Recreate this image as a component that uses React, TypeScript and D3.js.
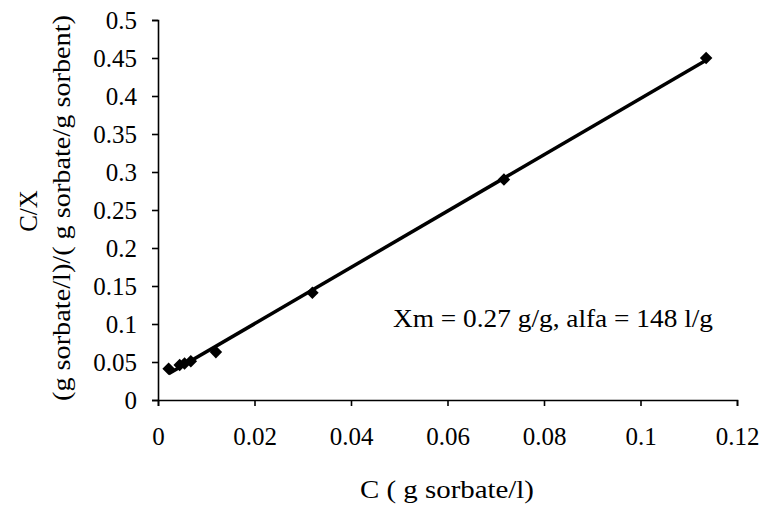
import React, { useRef, useEffect } from "react";
import * as d3 from "d3";

// measured points: C (g sorbate/l) vs C/X
const concC = [0.0022, 0.0045, 0.0055, 0.0068, 0.012, 0.032, 0.0717, 0.1136];
const ratioCX = [0.041, 0.046, 0.048, 0.051, 0.063, 0.141, 0.29, 0.45];

const xTicks = [0, 0.02, 0.04, 0.06, 0.08, 0.1, 0.12];
const yTicks = [0, 0.05, 0.1, 0.15, 0.2, 0.25, 0.3, 0.35, 0.4, 0.45, 0.5];

const xTitle = "C ( g sorbate/l)";
const yTitle1 = "C/X";
const yTitle2 = "(g sorbate/l)/( g sorbate/g sorbent)";
const note = "Xm = 0.27 g/g, alfa = 148 l/g";

const W = 760;
const H = 506;
const FONT = '"Liberation Serif", "Times New Roman", Times, serif';
const FS = 25;

function App() {
  const svgRef = useRef<SVGSVGElement>(null);

  useEffect(() => {
    const svg = d3.select(svgRef.current);
    svg.selectAll("*").remove();

    const x = d3.scaleLinear().domain([0, 0.12]).range([158, 737]);
    const y = d3.scaleLinear().domain([0, 0.5]).range([400, 20]);

    // axes
    svg.append("g")
      .attr("transform", "translate(0,400)")
      .call(d3.axisBottom(x).tickValues(xTicks).tickFormat(d => String(d)).tickSize(6).tickPadding(21))
      .call(g => g.select(".domain").attr("stroke-width", 1.6))
      .call(g => g.selectAll(".tick line").attr("stroke-width", 1.6));

    svg.append("g")
      .attr("transform", "translate(158,0)")
      .call(d3.axisLeft(y).tickValues(yTicks).tickFormat(d => String(d)).tickSize(6).tickPadding(15))
      .call(g => g.select(".domain").attr("stroke-width", 1.6))
      .call(g => g.selectAll(".tick line").attr("stroke-width", 1.6));

    svg.selectAll("g").attr("font-family", null).attr("font-size", null);
    svg.selectAll(".tick text").attr("fill", "#000");

    // least-squares trend line through the points
    const pts = concC.map((c, i) => [c, ratioCX[i]] as [number, number]);
    const mx = d3.mean(concC)!;
    const my = d3.mean(ratioCX)!;
    const slope = d3.sum(pts, p => (p[0] - mx) * (p[1] - my)) / d3.sum(pts, p => (p[0] - mx) ** 2);
    const icpt = my - slope * mx;
    const [x0, x1] = d3.extent(concC) as [number, number];
    const trend: [number, number][] = [[x0, icpt + slope * x0], [x1, icpt + slope * x1]];

    svg.append("path")
      .datum(trend)
      .attr("d", d3.line<[number, number]>().x(d => x(d[0])).y(d => y(d[1])))
      .attr("fill", "none")
      .attr("stroke", "#000")
      .attr("stroke-width", 3.5);

    // diamond markers
    svg.selectAll(".pt")
      .data(pts)
      .join("path")
      .attr("class", "pt")
      .attr("transform", d => `translate(${x(d[0])},${y(d[1])})`)
      .attr("d", d3.symbol(d3.symbolDiamond2, 100)())
      .attr("fill", "#000");

    // titles
    svg.append("text")
      .attr("x", 447).attr("y", 498)
      .attr("text-anchor", "middle")
      .attr("textLength", 174).attr("lengthAdjust", "spacingAndGlyphs")
      .text(xTitle);

    svg.append("text")
      .attr("transform", "translate(37,211) rotate(-90)")
      .attr("text-anchor", "middle")
      .text(yTitle1);

    svg.append("text")
      .attr("transform", "translate(70,208) rotate(-90)")
      .attr("text-anchor", "middle")
      .attr("textLength", 386).attr("lengthAdjust", "spacingAndGlyphs")
      .text(yTitle2);

    svg.append("text")
      .attr("x", 393).attr("y", 327)
      .attr("textLength", 320).attr("lengthAdjust", "spacingAndGlyphs")
      .text(note);
  }, []);

  return (
    <div style={{ position: "absolute", left: 0, top: 0, width: W, height: H, background: "#fff" }}>
      <svg ref={svgRef} width={W} height={H} style={{ fontFamily: FONT, fontSize: FS }} />
    </div>
  );
}

export default App;
